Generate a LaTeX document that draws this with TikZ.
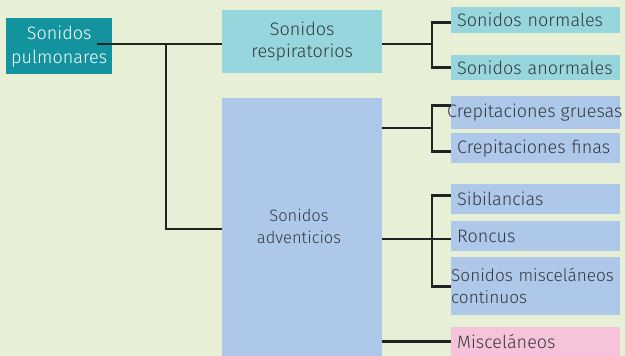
\documentclass[tikz,border=0pt]{standalone}
\usepackage{fontspec}
\setmainfont{Fira Sans}[UprightFont=* Light]
\definecolor{bgc}{HTML}{E7F0D7}
\definecolor{tealc}{HTML}{12939E}
\definecolor{cyanc}{HTML}{96D6DC}
\definecolor{bluec}{HTML}{AEC8E9}
\definecolor{pinkc}{HTML}{F6C3DA}
\definecolor{lnc}{HTML}{222222}
\definecolor{txc}{HTML}{36383F}
\begin{document}
\begin{tikzpicture}[x=1pt,y=-1pt,
  box/.style={inner sep=0pt, anchor=north west, font=\fontsize{18}{22}\selectfont, text=txc},
  mainbox/.style={box, align=center},
  leaf/.style={box, fill=bluec, minimum width=169pt, inner xsep=6pt, text width=157pt, align=left},
  ln/.style={line width=2.6pt, draw=lnc},
]
\fill[bgc] (0,0) rectangle (625,356);
\useasboundingbox (0,0) rectangle (625,356);

% main boxes
\node[mainbox, fill=tealc, text=white, minimum width=106pt, minimum height=56pt, font=\fontsize{18}{24}\selectfont] (pul) at (6,18) {Sonidos\\pulmonares};
\node[mainbox, fill=cyanc, minimum width=160pt, minimum height=63pt] (resp) at (222,10) {Sonidos\\respiratorios};
\node[mainbox, fill=bluec, minimum width=160pt, minimum height=258pt] (adv) at (222,98) {};
\node[box, align=center, anchor=center, font=\fontsize{16.5}{22}\selectfont] (advt) at (299,226) {Sonidos\\adventicios};

% leaves
\node[leaf, fill=cyanc, minimum height=26pt] (norm) at (451,7) {Sonidos normales};
\node[leaf, fill=cyanc, minimum height=25pt] (anorm) at (451,55) {Sonidos anormales};
\node[leaf, minimum height=33pt] (cg) at (451,96) {};
\node[box, anchor=west, inner sep=0pt] (cgt) at ([xshift=-4pt]cg.west) {Crepitaciones gruesas};
\node[leaf, minimum height=30pt] (cf) at (451,133) {Crepitaciones finas};
\node[leaf, minimum height=30pt] (sib) at (451,184) {Sibilancias};
\node[leaf, minimum height=30pt] (ron) at (451,221) {Roncus};
\node[leaf, minimum height=58pt, inner xsep=0pt, text width=169pt, font=\fontsize{17.2}{22}\selectfont] (mcont) at (451,257) {\mbox{Sonidos misceláneos}\\continuos};
\node[leaf, fill=pinkc, minimum height=29pt] (misc) at (451,327) {Misceláneos};

% junctions
\coordinate (p1) at (97,44);
\coordinate (j1) at (166,44);
\coordinate (j2) at (166,229);
\coordinate (b1) at (432,44);
\coordinate (b2) at (432,128);
\coordinate (b3) at (432,239);

% connectors
\draw[ln] (p1) -- (resp.west |- p1);
\draw[ln] (j1) -- (j2) -- (adv.west |- j2);
\draw[ln] (resp.east |- b1) -- (b1);
\draw[ln] ([yshift=-2pt]norm.west) -| (b1) |- (anorm.west);
\draw[ln] (adv.east |- b2) -- (b2);
\draw[ln] ([yshift=7.5pt]cg.west) -| (b2) |- ([yshift=-3pt]cf.west);
\draw[ln] (adv.east |- b3) -- (ron.west |- b3);
\draw[ln] ([yshift=4pt]sib.west) -| (b3) |- (mcont.west);
\draw[ln] (adv.east |- misc.west) -- (misc.west);
\end{tikzpicture}
\end{document}
